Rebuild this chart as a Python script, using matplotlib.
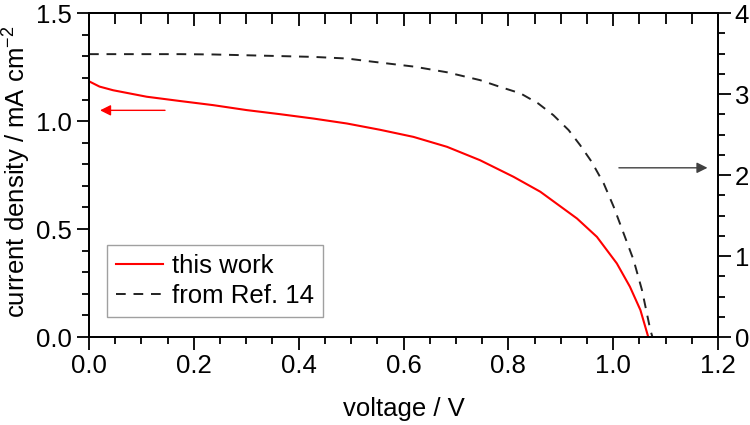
import numpy as np
import matplotlib.pyplot as plt
from matplotlib.ticker import MultipleLocator

plt.rcParams['font.family'] = ['Liberation Sans', 'DejaVu Sans']
plt.rcParams['mathtext.fontset'] = 'custom'
plt.rcParams['mathtext.rm'] = 'Liberation Sans'

# this work (left axis)
v_work = [0.0, 0.002, 0.02, 0.046, 0.11, 0.174, 0.237, 0.301, 0.365, 0.428,
          0.492, 0.555, 0.619, 0.683, 0.746, 0.81, 0.861, 0.931,
          0.969, 1.007, 1.032, 1.052, 1.067]
j_work = [1.185, 1.182, 1.16, 1.143, 1.113, 1.093, 1.074, 1.051, 1.032, 1.012,
          0.989, 0.960, 0.927, 0.881, 0.819, 0.742, 0.673, 0.549,
          0.464, 0.341, 0.233, 0.125, 0.0]

# from Ref. 14 (right axis)
v_ref = [0.0, 0.174, 0.237, 0.301, 0.365, 0.428, 0.492, 0.542, 0.62, 0.683,
         0.746, 0.784, 0.823, 0.857, 0.886, 0.915, 0.937, 0.959, 0.982, 1.001,
         1.02, 1.039, 1.055, 1.071, 1.075]
j_ref = [3.494, 3.494, 3.49, 3.48, 3.47, 3.46, 3.44, 3.40, 3.34, 3.27,
         3.173, 3.09, 3.01, 2.885, 2.74, 2.556, 2.37, 2.164, 1.897, 1.609,
         1.28, 0.951, 0.58, 0.086, 0.0]

fig = plt.figure(figsize=(7.5, 4.25), dpi=100)
ax = fig.add_axes([0.1187, 0.207, 0.8386, 0.762])
ax2 = ax.twinx()

l1, = ax.plot(v_work, j_work, color='#ff0000', lw=1.5, label='this work')
l2, = ax2.plot(v_ref, j_ref, color='#222222', lw=1.4, ls=(0, (5, 4)), label='from Ref. 14')

ax.set_xlim(0, 1.2)
ax.set_ylim(0, 1.5)
ax2.set_ylim(0, 4)

fs = 18.5
ax.xaxis.set_major_locator(MultipleLocator(0.2))
ax.xaxis.set_minor_locator(MultipleLocator(0.05))
ax.yaxis.set_major_locator(MultipleLocator(0.5))
ax.yaxis.set_minor_locator(MultipleLocator(0.1))
ax2.yaxis.set_major_locator(MultipleLocator(1))
ax2.yaxis.set_minor_locator(MultipleLocator(0.25))
ax.xaxis.set_major_formatter(lambda x, p: f'{x:.1f}')
ax.yaxis.set_major_formatter(lambda x, p: f'{x:.1f}')
ax2.yaxis.set_major_formatter(lambda x, p: f'{x:.0f}')

for a in (ax, ax2):
    for s in a.spines.values():
        s.set_linewidth(1.3)
ax.tick_params(axis='both', which='major', direction='out', length=9, width=1.3,
               labelsize=fs, pad=3)
ax.tick_params(axis='both', which='minor', direction='out', length=5, width=1.3)
ax2.tick_params(axis='y', which='major', direction='out', length=9, width=1.3,
                labelsize=fs, pad=3)
ax2.tick_params(axis='y', which='minor', direction='out', length=5, width=1.3)

# top ticks point inward
sec = ax.secondary_xaxis('top')
sec.xaxis.set_major_locator(MultipleLocator(0.2))
sec.xaxis.set_minor_locator(MultipleLocator(0.05))
sec.tick_params(which='major', direction='in', length=9, width=1.3, labeltop=False)
sec.tick_params(which='minor', direction='in', length=8, width=1.3)
sec.spines['top'].set_linewidth(1.3)

ax.set_xlabel('voltage / V', fontsize=fs, labelpad=14)
ax.set_ylabel('current density / mA cm$^{-2}$', fontsize=fs)
ax.yaxis.set_label_coords(-0.09, 0.51)

ax.annotate('', xy=(0.021, 1.05), xytext=(0.145, 1.05),
            arrowprops=dict(arrowstyle='-|>', color='#ff0000', lw=1.0,
                            mutation_scale=16, shrinkA=0, shrinkB=0))
ax2.annotate('', xy=(1.18, 2.09), xytext=(1.011, 2.09),
             arrowprops=dict(arrowstyle='-|>', color='#404040', lw=1.0,
                             mutation_scale=16, shrinkA=0, shrinkB=0))

leg = ax.legend(handles=[l1, l2], loc='lower left', bbox_to_anchor=(0.028, 0.062),
                fontsize=fs, frameon=True, fancybox=False, edgecolor='#888888',
                handlelength=1.85, handletextpad=0.35, borderpad=0.35,
                labelspacing=0.25, borderaxespad=0)
leg.get_frame().set_linewidth(1.0)

fig.savefig('out.png', dpi=100)
